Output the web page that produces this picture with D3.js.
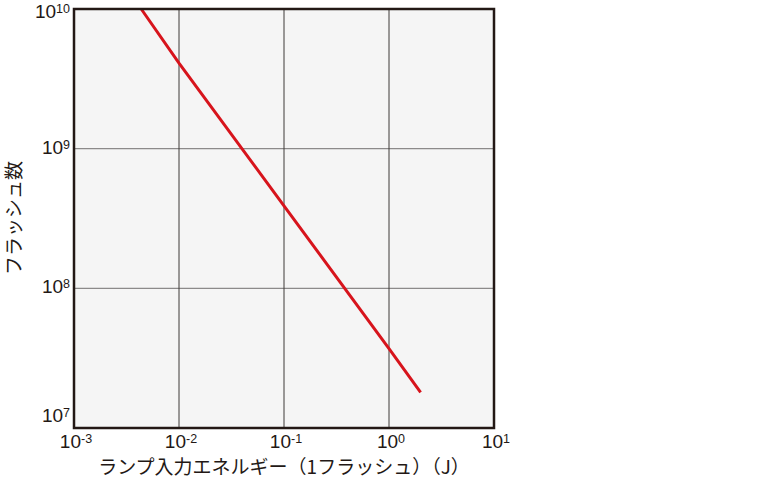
<!DOCTYPE html>
<html>
<head>
<meta charset="utf-8">
<script src="https://cdn.jsdelivr.net/npm/d3@7"></script>
<style>
  body { margin: 0; background: #fff; }
  text { font-family: "Noto Sans CJK JP", "Noto Sans", sans-serif; fill: #231815; }
  text.tick { font-family: "Liberation Sans", Arial, sans-serif; }
</style>
</head>
<body>
<div id="chart"></div>
<script>
// lamp input energy (J) vs number of flashes
var energy = [0.00437, 0.01, 0.1, 1, 2];
var flashes = [1e10, 4.1e9, 3.9e8, 3.7e7, 1.8e7];

var xTickExp = [-3, -2, -1, 0, 1];
var yTickExp = [7, 8, 9, 10];

var xTitle = "ランプ入力エネルギー（1フラッシュ）（J）";
var yTitle = "フラッシュ数";

var W = 769, H = 501;
var plot = { left: 74, top: 9, right: 494, bottom: 428 };

var svg = d3.select("#chart")
  .append("svg")
  .attr("width", W)
  .attr("height", H);

var x = d3.scaleLog()
  .domain([1e-3, 1e1])
  .range([plot.left, plot.right]);

var y = d3.scaleLog()
  .domain([1e7, 1e10])
  .range([plot.bottom, plot.top]);

// background
svg.append("rect")
  .attr("x", plot.left)
  .attr("y", plot.top)
  .attr("width", plot.right - plot.left)
  .attr("height", plot.bottom - plot.top)
  .attr("fill", "#f5f5f5");

// grid
svg.selectAll(".hgrid")
  .data(yTickExp.slice(1, -1))
  .enter()
  .append("line")
  .attr("x1", plot.left)
  .attr("x2", plot.right)
  .attr("y1", function (d) { return y(Math.pow(10, d)) })
  .attr("y2", function (d) { return y(Math.pow(10, d)) })
  .attr("stroke", "#8c8a8a")
  .attr("stroke-width", 1.3);

svg.selectAll(".vgrid")
  .data(xTickExp.slice(1, -1))
  .enter()
  .append("line")
  .attr("x1", function (d) { return x(Math.pow(10, d)) })
  .attr("x2", function (d) { return x(Math.pow(10, d)) })
  .attr("y1", plot.top)
  .attr("y2", plot.bottom)
  .attr("stroke", "#3e3a39")
  .attr("stroke-width", 1);

// data line
var line = d3.line()
  .x(function (d, i) { return x(energy[i]) })
  .y(function (d) { return y(d) });

svg.append("path")
  .datum(flashes)
  .attr("d", line)
  .attr("fill", "none")
  .attr("stroke", "#d7141c")
  .attr("stroke-width", 3);

// frame
svg.append("rect")
  .attr("x", plot.left)
  .attr("y", plot.top)
  .attr("width", plot.right - plot.left)
  .attr("height", plot.bottom - plot.top)
  .attr("fill", "none")
  .attr("stroke", "#231815")
  .attr("stroke-width", 2.5);

// tick labels with superscripts
function powLabel(sel, e) {
  sel.append("tspan").text("10");
  sel.append("tspan")
    .attr("dy", -5)
    .attr("font-size", 12.5)
    .text(e < 0 ? "-" + (-e) : e);
}

svg.selectAll(".xlab")
  .data(xTickExp)
  .enter()
  .append("text")
  .attr("class", "tick")
  .attr("x", function (d) { return x(Math.pow(10, d)) + 2 })
  .attr("y", 448)
  .attr("text-anchor", "middle")
  .attr("font-size", 19)
  .each(function (d) { powLabel(d3.select(this), d) });

svg.selectAll(".ylab")
  .data(yTickExp)
  .enter()
  .append("text")
  .attr("class", "tick")
  .attr("x", 70)
  .attr("y", function (d) {
    var v = y(Math.pow(10, d));
    if (d === 7) return v - 6;
    if (d === 10) return v + 9;
    return v + 5;
  })
  .attr("text-anchor", "end")
  .attr("font-size", 19)
  .each(function (d) { powLabel(d3.select(this), d) });

// axis titles
svg.append("text")
  .attr("x", 284)
  .attr("y", 474)
  .attr("text-anchor", "middle")
  .attr("font-size", 19)
  .text(xTitle);

svg.append("text")
  .attr("transform", "translate(21,218) rotate(-90)")
  .attr("text-anchor", "middle")
  .attr("font-size", 19)
  .text(yTitle);
</script>
</body>
</html>
